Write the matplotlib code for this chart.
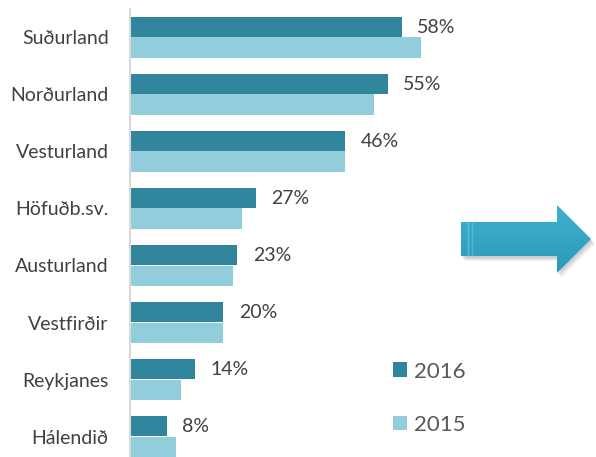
import numpy as np
import matplotlib
matplotlib.use('Agg')
import matplotlib.pyplot as plt
from matplotlib.patches import Polygon

plt.rcParams['font.family'] = ['Lato', 'DejaVu Sans']

# gögn
regions = ['Suðurland', 'Norðurland', 'Vesturland', 'Höfuðb.sv.',
           'Austurland', 'Vestfirðir', 'Reykjanes', 'Hálendið']
share_2016 = [58, 55, 46, 27, 23, 20, 14, 8]
share_2015 = [62, 52, 46, 24, 22, 20, 11, 10]

dark = '#31859C'
light = '#92CDDC'
W, H = 596, 457

fig = plt.figure(figsize=(W / 100, H / 100), dpi=100)
ax = fig.add_axes([129.5 / W, -8 / H, 469.5 / W, 456 / H])

y = np.arange(len(regions))
h = 0.356
ax.barh(y - h / 2, share_2016, height=h, color=dark, label='2016')
ax.barh(y + h / 2, share_2015, height=h, color=light, label='2015')

for yi, v in zip(y, share_2016):
    ax.annotate(f'{v}%', (v, yi - h / 2), xytext=(11, 0), textcoords='offset points',
                va='center', ha='left', fontsize=14, color='#404040')

ax.set_xlim(0, 100)
ax.set_ylim(len(regions) - 0.5, -0.5)
ax.set_yticks(y)
ax.set_yticklabels(regions, fontsize=14, color='#404040')
ax.tick_params(axis='y', length=0, pad=15)
ax.set_xticks([])
for s in ['top', 'right', 'bottom']:
    ax.spines[s].set_visible(False)
ax.spines['left'].set_color('#D9D9D9')
ax.spines['left'].set_linewidth(1.5)

ax.legend(loc='upper left', bbox_to_anchor=(392.7 / W, 1 - 361.5 / H),
          bbox_transform=fig.transFigure, frameon=False, fontsize=16,
          handlelength=0.65, handleheight=0.65, handletextpad=0.3,
          labelspacing=1.5, borderpad=0, borderaxespad=0,
          labelcolor='#595959')

# örin til hægri
ov = fig.add_axes([0, 0, 1, 1])
ov.set_xlim(0, W)
ov.set_ylim(H, 0)
ov.axis('off')
pts = [(461, 222), (557, 222), (557, 205), (591, 239), (557, 273),
       (557, 256), (461, 256)]
for k in range(4):
    sh = Polygon([(px + 1 + k, py + 2 + k) for px, py in pts], closed=True,
                 facecolor='black', edgecolor='none', alpha=0.05, zorder=1)
    ov.add_patch(sh)
arrow = Polygon(pts, closed=True, facecolor='none', edgecolor='none')
ov.add_patch(arrow)
grad = np.linspace(0, 1, 100).reshape(-1, 1)
cmap = matplotlib.colors.LinearSegmentedColormap.from_list('a', ['#3DB2D1', '#2D98B7'])
img = ov.imshow(grad, cmap=cmap, extent=(461, 591, 273, 205), aspect='auto',
                origin='upper', zorder=2)
img.set_clip_path(arrow)
ov.plot([468, 468], [222, 256], color='#7FD0E6', lw=1, alpha=0.6, zorder=3)
ov.plot([472, 472], [222, 256], color='#7FD0E6', lw=1, alpha=0.4, zorder=3)
ov.set_xlim(0, W)
ov.set_ylim(H, 0)

fig.savefig('out.png', dpi=100)
